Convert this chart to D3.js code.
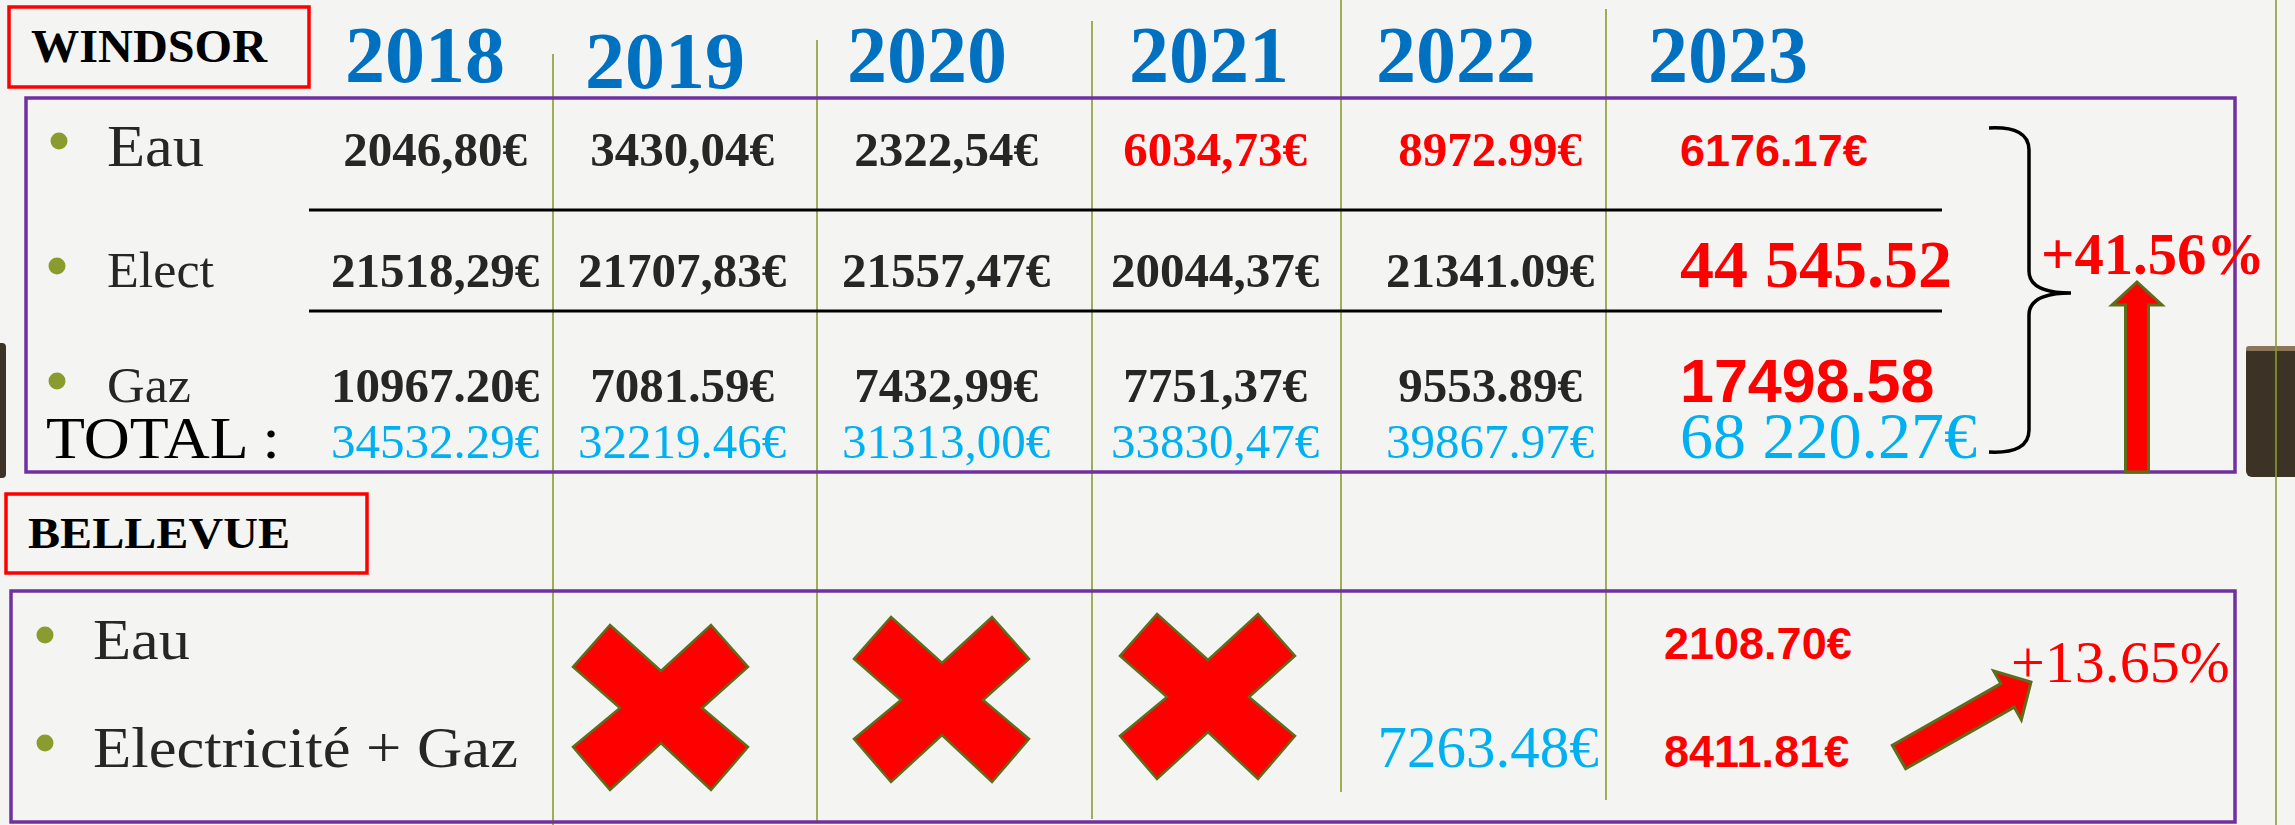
<!DOCTYPE html>
<html>
<head>
<meta charset="utf-8">
<script src="https://cdn.jsdelivr.net/npm/d3@7"></script>
<style>
  body { margin: 0; background: #f4f4f2; }
  svg { display: block; }
</style>
</head>
<body>
<div id="chart"></div>
<script>
// column headers
var years = ["2018", "2019", "2020", "2021", "2022", "2023"];

// WINDSOR table
var windsorRows  = ["Eau", "Elect", "Gaz"];
var windsorEau   = ["2046,80€", "3430,04€", "2322,54€", "6034,73€", "8972.99€", "6176.17€"];
var windsorElect = ["21518,29€", "21707,83€", "21557,47€", "20044,37€", "21341.09€", "44 545.52"];
var windsorGaz   = ["10967.20€", "7081.59€", "7432,99€", "7751,37€", "9553.89€", "17498.58"];
var windsorTotal = ["34532.29€", "32219.46€", "31313,00€", "33830,47€", "39867.97€", "68 220.27€"];
var windsorChange = "+41.56%";

// BELLEVUE table
var bellevueRows     = ["Eau", "Electricité + Gaz"];
var bellevueEau      = ["", "", "", "", "", "2108.70€"];
var bellevueElecGaz  = ["", "", "", "", "7263.48€", "8411.81€"];
var bellevueMissing  = ["2019", "2020", "2021"];
var bellevueChange   = "+13.65%";

var width = 2295, height = 825;
var serif = "'Liberation Serif', 'Times New Roman', serif";
var sans = "'Liberation Sans', Arial, sans-serif";
var red = "#ff0000", blue = "#0070c0", cyan = "#00b0f0", dark = "#262626";
var purple = "#7030a0", olive = "#8a9c2e", oliveDark = "#5c6e1c";

var svg = d3.select("#chart").append("svg")
    .attr("width", width)
    .attr("height", height);

svg.append("rect").attr("width", width).attr("height", height).attr("fill", "#f4f4f2");

// scales: columns and rows
var headerX = d3.scaleOrdinal().domain(years).range([425, 665, 927, 1209, 1456, 1728]);
var cellX = d3.scaleOrdinal().domain(years).range([435, 682, 946, 1215, 1490, 1672]);
var colEdge = d3.scaleOrdinal().domain(years).range([553, 817, 1092, 1341, 1606, 2276]);
var colTop = d3.scaleOrdinal().domain(years).range([54, 40, 21, 0, 9, 0]);
var colBottom = d3.scaleOrdinal().domain(years).range([825, 823, 819, 792, 800, 825]);

var windsorY = d3.scaleOrdinal().domain(["Eau", "Elect", "Gaz", "TOTAL"]).range([166, 287, 402, 458]);
var bellevueY = d3.scaleOrdinal().domain(bellevueRows).range([659, 767]);
var missingY = d3.scaleOrdinal().domain(bellevueMissing).range([708, 700, 697]);

// slide decorations at the edges
svg.append("rect").attr("x", 2246).attr("y", 346).attr("width", 60).attr("height", 131)
    .attr("rx", 6).attr("fill", "#3d3226");
svg.append("rect").attr("x", 2246).attr("y", 346).attr("width", 60).attr("height", 5)
    .attr("rx", 3).attr("fill", "#8c765a");
svg.append("rect").attr("x", -10).attr("y", 343).attr("width", 16).attr("height", 135)
    .attr("rx", 4).attr("fill", "#3d3226");

// column separators
svg.selectAll(".sep").data(years).enter().append("line")
    .attr("class", "sep")
    .attr("x1", d => colEdge(d)).attr("x2", d => colEdge(d))
    .attr("y1", d => colTop(d)).attr("y2", d => colBottom(d))
    .attr("stroke", olive).attr("stroke-width", 1.6);

// year headers
svg.selectAll(".year").data(years).enter().append("text")
    .attr("class", "year")
    .attr("x", d => headerX(d))
    .attr("y", (d, i) => i === 1 ? 88 : 82)
    .attr("text-anchor", "middle")
    .attr("font-family", serif).attr("font-weight", "bold").attr("font-size", 80)
    .attr("fill", blue)
    .text(d => d);

// section titles
function sectionTitle(label, x, y, w, h, size, len) {
    svg.append("rect").attr("x", x).attr("y", y).attr("width", w).attr("height", h)
        .attr("fill", "none").attr("stroke", red).attr("stroke-width", 3.5);
    svg.append("text").attr("x", x + 22).attr("y", y + h / 2 + size * 0.33)
        .attr("font-family", serif).attr("font-weight", "bold").attr("font-size", size)
        .attr("textLength", len).attr("lengthAdjust", "spacingAndGlyphs")
        .attr("fill", "#000").text(label);
}
sectionTitle("WINDSOR", 9, 7, 300, 80, 46, 236);
sectionTitle("BELLEVUE", 6, 494, 361, 79, 44, 262);

// WINDSOR frame
var wBox = {x0: 26, y0: 98, x1: 2235, y1: 472};
svg.append("rect").attr("x", wBox.x0).attr("y", wBox.y0)
    .attr("width", wBox.x1 - wBox.x0).attr("height", wBox.y1 - wBox.y0)
    .attr("fill", "none").attr("stroke", purple).attr("stroke-width", 3.5);

// black rules between rows
svg.selectAll(".rule").data([210, 311]).enter().append("line")
    .attr("x1", 309).attr("x2", 1942)
    .attr("y1", d => d).attr("y2", d => d)
    .attr("stroke", "#000").attr("stroke-width", 3.2);

// row labels
var labelSize = {"Eau": 60, "Elect": 50, "Gaz": 51};
var labelLen = {"Eau": 97, "Elect": 107, "Gaz": 84};
var bulletOff = {"Eau": 25, "Elect": 21, "Gaz": 21};
svg.selectAll(".wbullet").data(windsorRows).enter().append("circle")
    .attr("cx", d => d === "Eau" ? 59 : 57)
    .attr("cy", d => windsorY(d) - bulletOff[d])
    .attr("r", 8.5).attr("fill", olive);
svg.selectAll(".wlabel").data(windsorRows).enter().append("text")
    .attr("x", 107).attr("y", d => windsorY(d))
    .attr("font-family", serif).attr("font-size", d => labelSize[d])
    .attr("textLength", d => labelLen[d]).attr("lengthAdjust", "spacingAndGlyphs")
    .attr("fill", dark).text(d => d);
svg.append("text").attr("x", 46).attr("y", windsorY("TOTAL"))
    .attr("font-family", serif).attr("font-size", 60).attr("fill", "#000")
    .attr("textLength", 234).attr("lengthAdjust", "spacingAndGlyphs")
    .text("TOTAL :");

// WINDSOR cells
var windsorCells = [];
[["Eau", windsorEau], ["Elect", windsorElect], ["Gaz", windsorGaz], ["TOTAL", windsorTotal]]
    .forEach(function(r) {
        r[1].forEach(function(v, i) {
            windsorCells.push({row: r[0], year: years[i], i: i, value: v});
        });
    });

function cellStyle(d) {
    var last = d.year === "2023";
    if (d.row === "TOTAL") return {fill: cyan, weight: "normal", size: last ? 66 : 49, family: serif};
    if (last) {
        if (d.row === "Eau") return {fill: red, weight: "bold", size: 45, family: sans};
        if (d.row === "Elect") return {fill: red, weight: "bold", size: 68, family: serif};
        return {fill: red, weight: "bold", size: 61, family: sans};
    }
    var isRed = d.row === "Eau" && (d.year === "2021" || d.year === "2022");
    return {fill: isRed ? red : dark, weight: "bold", size: 49, family: serif};
}

svg.selectAll(".wcell").data(windsorCells).enter().append("text")
    .attr("class", "wcell")
    .attr("x", d => d.year === "2023" ? cellX(d.year) + 8 : cellX(d.year))
    .attr("y", d => windsorY(d.row))
    .attr("text-anchor", d => d.year === "2023" ? "start" : "middle")
    .attr("font-family", d => cellStyle(d).family)
    .attr("font-weight", d => cellStyle(d).weight)
    .attr("font-size", d => cellStyle(d).size)
    .attr("fill", d => cellStyle(d).fill)
    .text(d => d.value);

// brace grouping the 2023 column
var bx = 1989, bm = 2029, bt = 2071, by0 = 128, by1 = 452, bmid = 293;
svg.append("path")
    .attr("d", "M" + bx + "," + by0 + " Q" + bm + "," + (by0 - 2) + " " + bm + "," + (by0 + 22) +
        " L" + bm + "," + (bmid - 22) + " Q" + bm + "," + bmid + " " + bt + "," + bmid +
        " Q" + bm + "," + bmid + " " + bm + "," + (bmid + 22) +
        " L" + bm + "," + (by1 - 22) + " Q" + bm + "," + (by1 + 2) + " " + bx + "," + by1)
    .attr("fill", "none").attr("stroke", "#000").attr("stroke-width", 3.5);

svg.append("text").attr("x", 2041).attr("y", 274)
    .attr("font-family", serif).attr("font-weight", "bold").attr("font-size", 60).attr("fill", red)
    .attr("textLength", 224).attr("lengthAdjust", "spacingAndGlyphs")
    .text(windsorChange);

// block arrow helper: along +x, then placed with translate/rotate
function blockArrow(x0, y0, x1, y1, shaftHalf, headHalf, headLen) {
    var L = Math.hypot(x1 - x0, y1 - y0);
    var ang = Math.atan2(y1 - y0, x1 - x0) * 180 / Math.PI;
    var pts = [[0, -shaftHalf], [L - headLen, -shaftHalf], [L - headLen, -headHalf], [L, 0],
               [L - headLen, headHalf], [L - headLen, shaftHalf], [0, shaftHalf]];
    svg.append("path")
        .attr("d", d3.line()(pts) + "Z")
        .attr("transform", "translate(" + x0 + "," + y0 + ") rotate(" + ang + ")")
        .attr("fill", red).attr("stroke", oliveDark).attr("stroke-width", 3)
        .attr("stroke-linejoin", "miter");
}
blockArrow(2137, wBox.y1, 2137, 282, 11.5, 25, 23);

// BELLEVUE frame
var bBox = {x0: 11, y0: 591, x1: 2235, y1: 822};
svg.append("rect").attr("x", bBox.x0).attr("y", bBox.y0)
    .attr("width", bBox.x1 - bBox.x0).attr("height", bBox.y1 - bBox.y0)
    .attr("fill", "none").attr("stroke", purple).attr("stroke-width", 3.5);

var bLabelLen = {"Eau": 97, "Electricité + Gaz": 425};
svg.selectAll(".bbullet").data(bellevueRows).enter().append("circle")
    .attr("cx", 45).attr("cy", d => bellevueY(d) - 24)
    .attr("r", 8.5).attr("fill", olive);
svg.selectAll(".blabel").data(bellevueRows).enter().append("text")
    .attr("x", 93).attr("y", d => bellevueY(d))
    .attr("font-family", serif).attr("font-size", d => d === "Eau" ? 57 : 58)
    .attr("textLength", d => bLabelLen[d]).attr("lengthAdjust", "spacingAndGlyphs")
    .attr("fill", dark).text(d => d);

// missing years: red crosses
var crossPts = [[-51, -83], [0, -37], [50, -83], [87, -41], [41, 0], [87, 39],
                [50, 82], [0, 35], [-51, 82], [-88, 39], [-41, 0], [-88, -41]];
var crossX = d3.scaleOrdinal().domain(bellevueMissing).range([661, 942, 1208]);
svg.selectAll(".cross").data(bellevueMissing).enter().append("path")
    .attr("d", d3.line()(crossPts) + "Z")
    .attr("transform", d => "translate(" + crossX(d) + "," + missingY(d) + ")")
    .attr("fill", red).attr("stroke", oliveDark).attr("stroke-width", 2.5);

// BELLEVUE cells
var bellevueCells = [];
[["Eau", bellevueEau], ["Electricité + Gaz", bellevueElecGaz]].forEach(function(r) {
    r[1].forEach(function(v, i) {
        if (v) bellevueCells.push({row: r[0], year: years[i], value: v});
    });
});
svg.selectAll(".bcell").data(bellevueCells).enter().append("text")
    .attr("x", d => d.year === "2023" ? cellX(d.year) - 8 : cellX(d.year) - 2)
    .attr("y", d => bellevueY(d.row))
    .attr("text-anchor", d => d.year === "2023" ? "start" : "middle")
    .attr("font-family", d => d.year === "2023" ? sans : serif)
    .attr("font-weight", d => d.year === "2023" ? "bold" : "normal")
    .attr("font-size", d => d.year === "2023" ? 45 : 59)
    .attr("fill", d => d.year === "2023" ? red : cyan)
    .text(d => d.value);

blockArrow(1899, 757, 2031, 682, 13.5, 28, 27);
svg.append("text").attr("x", 2011).attr("y", 682)
    .attr("font-family", serif).attr("font-size", 60).attr("fill", red)
    .text(bellevueChange);
</script>
</body>
</html>
